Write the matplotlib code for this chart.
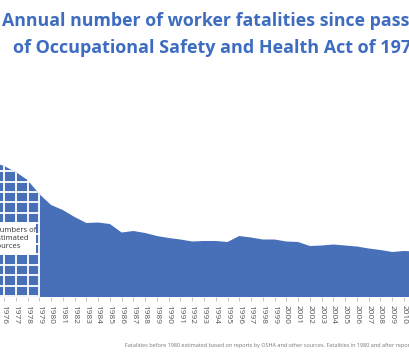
import numpy as np
import matplotlib
matplotlib.use('Agg')
import matplotlib.pyplot as plt
from matplotlib.patches import Rectangle

years = list(range(1975, 2012))
fatalities = [13500, 13100, 12500, 11700, 10300, 9200, 8700, 8000, 7400, 7450, 7300,
              6450, 6600, 6400, 6100, 5900, 5750, 5550, 5600, 5600, 5500, 6100,
              5950, 5750, 5750, 5550, 5500, 5100, 5150, 5250, 5150, 5050, 4850,
              4700, 4500, 4600, 4550]
tick_years = list(range(1975, 2012))

title1 = 'Annual number of worker fatalities since passage'
title2 = 'of Occupational Safety and Health Act of 1970'
note = ('Fatalities before 1980 estimated based on reports by OSHA and other sources. '
        'Fatalities in 1980 and after reported')
box_text = 'Numbers of\nestimated\nsources'

blue = '#4870b8'
W, H = 410, 353
fig = plt.figure(figsize=(W / 100, H / 100), dpi=100)

# axes fills the width, baseline at y=297px
px_per_year = 400 / 34.0
x0 = 1976 - 4 / px_per_year
x1 = 1976 + (W - 4) / px_per_year
bottom = (H - 297) / H
top_px = 60
ax = fig.add_axes([0, bottom, 1, (297 - top_px) / H])

poly = ax.fill_between(years, fatalities, 0, color=blue, lw=0, zorder=1)
clip_path = poly.get_paths()[0]

# white grid over the estimated years (before 1980)
for yr in [1976, 1977, 1978, 1979]:
    ln, = ax.plot([yr, yr], [0, 20000], color='white', lw=1.3, zorder=2)
    ln.set_clip_path(clip_path, ax.transData)
for h in np.arange(100, 20000, 1040):
    ln, = ax.plot([x0 - 1, 1979], [h, h], color='white', lw=1.3, zorder=2)
    ln.set_clip_path(clip_path, ax.transData)

ax.add_patch(Rectangle((x0 - 1, 4200), 1978.72 - x0 + 1, 3300, facecolor='white',
                       edgecolor='none', zorder=3))
ax.text(1976 - 10 / px_per_year, 5850, box_text, fontsize=5.5, color='#333333',
        family='Open Sans', ha='left', va='center', linespacing=1.3, zorder=4)

for s in ax.spines.values():
    s.set_visible(False)
ax.set_yticks([])
ax.set_xticks(tick_years)
ax.set_xticklabels([str(y) for y in tick_years], rotation=-90, fontsize=6,
                   color='#555555', family='Open Sans')
ax.tick_params(axis='x', length=3, width=0.6, color='#bbbbbb', pad=3)
ax.set_xlim(x0, x1)
ax.set_ylim(0, (297 - top_px) * 100)

fig.text(2 / W, 1 - 26 / H, title1, fontsize=12.8, fontweight='bold', color='#3d6cc0',
         family='Open Sans', ha='left', va='baseline')
fig.text(13 / W, 1 - 53 / H, title2, fontsize=12.95, fontweight='bold', color='#3d6cc0',
         family='Open Sans', ha='left', va='baseline')
fig.text(125 / W, 1 - 345 / H, note, fontsize=4, color='#777777', family='Open Sans',
         ha='left', va='center')

fig.savefig('out.png', dpi=100)
